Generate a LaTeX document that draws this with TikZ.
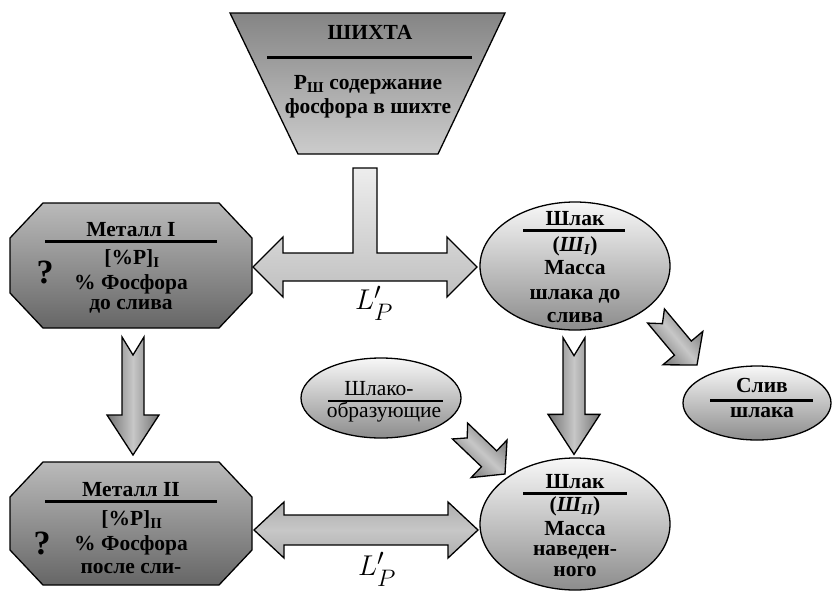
\documentclass[tikz,border=0pt]{standalone}
\usepackage{amsmath}
\usepackage{fontspec}
\setmainfont{Liberation Serif}
\usetikzlibrary{shapes.geometric,calc}

\tikzset{
  shape box/.style={draw, line width=1.3pt},
  funnelbox/.style={shape box, top color=black!48, bottom color=black!20},
  metbox/.style={shape box, top color=black!27, bottom color=black!60},
  slagbox/.style={shape box, ellipse, inner sep=0pt,
    top color=black!3, bottom color=black!45},
  txt/.style={font=\bfseries\fontsize{21.5}{23}\selectfont, inner sep=0pt,
    text height=14.5pt, text depth=4.5pt},
  plain txt/.style={txt, font=\fontsize{21.5}{23}\selectfont},
  qmark/.style={font=\bfseries\fontsize{34}{36}\selectfont, inner sep=0pt},
  coef/.style={font=\fontsize{24.88}{28}\selectfont, inner sep=0pt},
  sepline/.style={line width=3pt},
  block/.style={draw, line width=1.3pt, line join=miter,
    top color=black!55, bottom color=black!55, middle color=black!22},
  tarrow/.style={draw, line width=1.3pt, top color=black!7, bottom color=black!25},
  dblarrow/.style={draw, line width=1.3pt, top color=black!32, bottom color=black!32,
    middle color=black!22},
}

% block arrow with notched tail, from #2 to #3, head length #4, notch #5
\newcommand{\blockarrow}[5][]{%
  \path[block,#1] let \p1=(#2), \p2=(#3),
    \n1={atan2(\y2-\y1,\x2-\x1)}, \n2={veclen(\x2-\x1,\y2-\y1)} in
    [shift={(\p1)}, rotate=\n1]
    (0,11) -- (#5,0) -- (0,-11) -- ({\n2-#4},-11) -- ({\n2-#4},-26) -- (\n2,0)
    -- ({\n2-#4},26) -- ({\n2-#4},11) -- cycle;}

\begin{document}
\begin{tikzpicture}[x=1pt,y=-1pt]
  \useasboundingbox (0,0) rectangle (833,592);

  % shapes
  \path[funnelbox] (230,13) -- (505,13) -- (438,154) -- (298,154) -- cycle;
  \path[metbox] (43,203) -- (219,203) -- (252,238) -- (252,293) -- (219,328)
    -- (43,328) -- (10,293) -- (10,238) -- cycle;
  \path[metbox] (43,462) -- (219,462) -- (252,497) -- (252,550) -- (219,585)
    -- (43,585) -- (10,550) -- (10,497) -- cycle;
  \node[slagbox, minimum width=190pt, minimum height=128pt] (shl1) at (575,266) {};
  \node[slagbox, minimum width=190pt, minimum height=132pt] (shl2) at (575,524) {};
  \node[slagbox, minimum width=160pt, minimum height=80pt] (obr) at (381,398) {};
  \node[slagbox, minimum width=148pt, minimum height=74pt] (sliv) at (757,403) {};

  % funnel text
  \node[txt] (shixta title) at (370,34) {ШИХТА};
  \draw[sepline] (267,57) -- (472,57);
  \node[txt] (shixta l1) at (368,84) {P\textsubscript{Ш} содержание};
  \node[txt] (shixta l2) at (368,108) {фосфора в шихте};

  % metal before tapping
  \node[txt] (met1 title) at (131,231) {Металл I};
  \draw[sepline] (45,241) -- (217,241);
  \node[txt] (met1 l1) at (132,259) {[\%P]\textsubscript{I}};
  \node[txt] (met1 l2) at (131,284) {\% Фосфора};
  \node[txt] (met1 l3) at (131,304) {до слива};
  \node[qmark] (met1 q) at (45,272) {?};

  % metal after tapping
  \node[txt] (met2 title) at (131,491) {Металл II};
  \draw[sepline] (45,501) -- (217,501);
  \node[txt] (met2 l1) at (132,520) {[\%P]\textsubscript{II}};
  \node[txt] (met2 l2) at (131,545) {\% Фосфора};
  \node[txt] (met2 l3) at (131,568) {после сли-};
  \node[qmark] (met2 q) at (42,543) {?};

  % slag I
  \node[txt] (shl1 title) at (575,220) {Шлак};
  \draw[sepline] (523,230) -- (625,230);
  \node[txt] (shl1 l1) at (575,246) {(\textit{Ш\textsubscript{I}})};
  \node[txt] (shl1 l2) at (575,269) {Масса};
  \node[txt] (shl1 l3) at (575,294) {шлака до};
  \node[txt] (shl1 l4) at (575,317) {слива};

  % slag II
  \node[txt] (shl2 title) at (575,483) {Шлак};
  \draw[sepline] (523,493) -- (627,493);
  \node[txt] (shl2 l1) at (575,506) {(\textit{Ш\textsubscript{II}})};
  \node[txt] (shl2 l2) at (575,530) {Масса};
  \node[txt] (shl2 l3) at (575,550) {наведен-};
  \node[txt] (shl2 l4) at (575,571) {ного};

  % fluxes and tapping
  \node[plain txt] (obr l1) at (379,390) {Шлако-};
  \draw[line width=2.4pt] (328,401) -- (443,401);
  \node[plain txt] (obr l2) at (384,412) {образующие};
  \node[txt] (sliv l1) at (762,387) {Слив};
  \draw[sepline] (710,400) -- (813,400);
  \node[txt] (sliv l2) at (762,412) {шлака};

  % distribution arrows
  \coordinate (lp1) at (253,267);
  \begin{scope}[shift={(lp1)}]
    \path[tarrow] (0,0) -- (30,-30) -- (30,-14) -- (100,-14) -- (100,-99)
      -- (124,-99) -- (124,-14) -- (194,-14) -- (194,-30) -- (224,0)
      -- (194,30) -- (194,14) -- (30,14) -- (30,30) -- cycle;
  \end{scope}
  \coordinate (lp2) at (254,530);
  \begin{scope}[shift={(lp2)}]
    \path[dblarrow] (0,0) -- (30,-28) -- (30,-15) -- (194,-15) -- (194,-28)
      -- (224,0) -- (194,28) -- (194,15) -- (30,15) -- (30,28) -- cycle;
  \end{scope}
  \node[coef] (coef1) at (374,303) {\scalebox{1.15}{$L'_P$}};
  \node[coef] (coef2) at (377,569) {\scalebox{1.15}{$L'_P$}};

  % flow arrows
  \coordinate (met1 out) at (133,337);
  \coordinate (met2 in) at (133,455);
  \blockarrow[shading angle=-90]{met1 out}{met2 in}{40}{18}
  \blockarrow[shading angle=-90]{$(shl1.south)+(-1,7)$}{$(shl2.north)+(-1,-3)$}{40}{18}
  \coordinate (obr out) at (460,431);
  \coordinate (shl2 in) at (505,474);
  \blockarrow[shading angle=-44]{obr out}{shl2 in}{22}{10}
  \coordinate (shl1 out) at (656,316);
  \coordinate (sliv in) at (697,365);
  \blockarrow[shading angle=-50]{shl1 out}{sliv in}{22}{10}

\end{tikzpicture}
\end{document}
